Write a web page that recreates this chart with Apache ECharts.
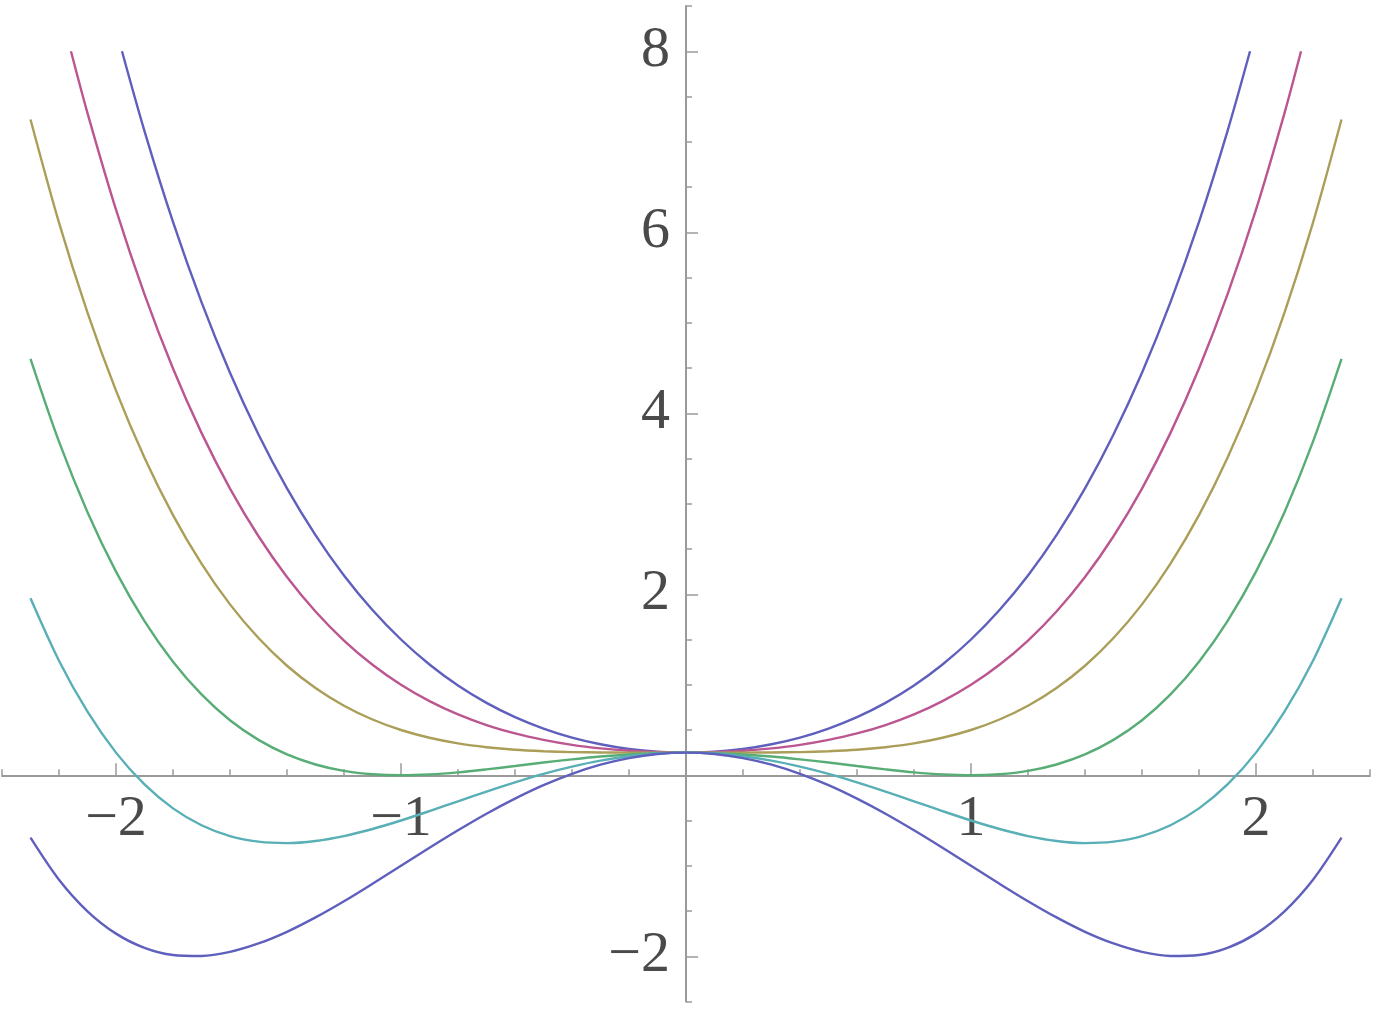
<!DOCTYPE html>
<html>
<head>
<meta charset="utf-8">
<script src="https://cdn.jsdelivr.net/npm/echarts@6/dist/echarts.min.js"></script>
<style>
html,body{margin:0;padding:0;background:#fff;}
#chart{width:1375px;height:1015px;}
</style>
</head>
<body>
<div id="chart"></div>
<script>
// x samples
var xsFull = [-2.3,-2.2,-2.1,-2.0,-1.9,-1.8,-1.7,-1.6,-1.5,-1.4,-1.3,-1.2,-1.1,-1.0,-0.9,-0.8,-0.7,-0.6,-0.5,-0.4,-0.3,-0.2,-0.1,0,
  0.1,0.2,0.3,0.4,0.5,0.6,0.7,0.8,0.9,1.0,1.1,1.2,1.3,1.4,1.5,1.6,1.7,1.8,1.9,2.0,2.1,2.2,2.3];
var xsBlueTop = [-1.979,-1.9,-1.8,-1.7,-1.6,-1.5,-1.4,-1.3,-1.2,-1.1,-1.0,-0.9,-0.8,-0.7,-0.6,-0.5,-0.4,-0.3,-0.2,-0.1,0,
  0.1,0.2,0.3,0.4,0.5,0.6,0.7,0.8,0.9,1.0,1.1,1.2,1.3,1.4,1.5,1.6,1.7,1.8,1.9,1.979];
var xsPinkTop = [-2.158,-2.1,-2.0,-1.9,-1.8,-1.7,-1.6,-1.5,-1.4,-1.3,-1.2,-1.1,-1.0,-0.9,-0.8,-0.7,-0.6,-0.5,-0.4,-0.3,-0.2,-0.1,0,
  0.1,0.2,0.3,0.4,0.5,0.6,0.7,0.8,0.9,1.0,1.1,1.2,1.3,1.4,1.5,1.6,1.7,1.8,1.9,2.0,2.1,2.158];

// curve values
var blueTop = [8,7.118,6.114,5.228,4.448,3.766,3.17,2.654,2.208,1.826,1.5,1.224,0.992,0.8,0.642,0.516,0.416,0.342,0.29,0.26,0.25,
  0.26,0.29,0.342,0.416,0.516,0.642,0.8,0.992,1.224,1.5,1.826,2.208,2.654,3.17,3.766,4.448,5.228,6.114,7.118,8];
var pink = [8,7.317,6.25,5.313,4.494,3.783,3.168,2.641,2.19,1.809,1.488,1.221,1.0,0.819,0.672,0.555,0.462,0.391,0.336,0.297,0.27,0.255,0.25,
  0.255,0.27,0.297,0.336,0.391,0.462,0.555,0.672,0.819,1.0,1.221,1.488,1.809,2.19,2.641,3.168,3.783,4.494,5.313,6.25,7.317,8];
var yellow = [7.246,6.106,5.112,4.25,3.508,2.874,2.338,1.888,1.516,1.21,0.964,0.768,0.616,0.5,0.414,0.352,0.31,0.282,0.266,0.256,0.252,0.25,0.25,0.25,
  0.25,0.25,0.252,0.256,0.266,0.282,0.31,0.352,0.414,0.5,0.616,0.768,0.964,1.21,1.516,1.888,2.338,2.874,3.508,4.25,5.112,6.106,7.246];
var green = [4.601,3.686,2.907,2.25,1.703,1.254,0.893,0.608,0.391,0.23,0.119,0.048,0.011,0,0.009,0.032,0.065,0.102,0.141,0.176,0.207,0.23,0.245,0.25,
  0.245,0.23,0.207,0.176,0.141,0.102,0.065,0.032,0.009,0,0.011,0.048,0.119,0.23,0.391,0.608,0.893,1.254,1.703,2.25,2.907,3.686,4.601];
var cyan = [1.956,1.266,0.702,0.25,-0.102,-0.366,-0.552,-0.672,-0.734,-0.75,-0.726,-0.672,-0.594,-0.5,-0.396,-0.288,-0.18,-0.078,0.016,0.096,0.162,0.21,0.24,0.25,
  0.24,0.21,0.162,0.096,0.016,-0.078,-0.18,-0.288,-0.396,-0.5,-0.594,-0.672,-0.726,-0.75,-0.734,-0.672,-0.552,-0.366,-0.102,0.25,0.702,1.266,1.956];
var blueLow = [-0.689,-1.154,-1.503,-1.75,-1.907,-1.986,-1.997,-1.952,-1.859,-1.73,-1.571,-1.392,-1.199,-1.0,-0.801,-0.608,-0.425,-0.258,-0.109,0.016,0.117,0.19,0.235,0.25,
  0.235,0.19,0.117,0.016,-0.109,-0.258,-0.425,-0.608,-0.801,-1.0,-1.199,-1.392,-1.571,-1.73,-1.859,-1.952,-1.997,-1.986,-1.907,-1.75,-1.503,-1.154,-0.689];

// tick labels
var xTickLabels = [-2, -1, 1, 2];
var yTickLabels = [-2, 2, 4, 6, 8];

function pairs(xs, ys){
  return xs.map(function(x, i){ return [x, ys[i]]; });
}
function fmt(v){
  return String(v).replace('-', '\u2212');
}

var axisColor = '#9a9a9a';
var gridTop = 6, gridBottom = 13.5, gridLeft = 2, gridRight = 5;
var H = 1015 - gridTop - gridBottom, W = 1375 - gridLeft - gridRight;
var yMin = -2.5, yMax = 8.5, xMin = -2.4, xMax = 2.4;
// move axes onto the zero lines
var xOffset = -(H * (0 - yMin) / (yMax - yMin));
var yOffset = -(W * (0 - xMin) / (xMax - xMin));

var labelStyle = {
  color: '#4a4a4a',
  fontFamily: 'Liberation Serif',
  fontSize: 58,
  formatter: fmt
};

function line(data, color){
  return {
    type: 'line',
    data: data,
    smooth: 0.3,
    showSymbol: false,
    silent: true,
    lineStyle: {color: color, width: 2.4}
  };
}

var chart = echarts.init(document.getElementById('chart'));
chart.setOption({
  animation: false,
  backgroundColor: '#fff',
  grid: {left: gridLeft, right: gridRight, top: gridTop, bottom: gridBottom, outerBoundsMode: 'none', containLabel: false},
  xAxis: [{
    type: 'value', position: 'bottom', offset: xOffset,
    min: xMin, max: xMax,
    axisLine: {onZero: false, lineStyle: {color: axisColor, width: 2}},
    axisTick: {inside: true, length: 12, customValues: xTickLabels, lineStyle: {color: axisColor, width: 1.5}},
    splitLine: {show: false},
    axisLabel: Object.assign({margin: 16, customValues: xTickLabels}, labelStyle)
  }, {
    type: 'value', position: 'bottom', offset: xOffset,
    min: xMin, max: xMax, interval: 0.2,
    axisLine: {show: false, onZero: false},
    axisTick: {inside: true, length: 6, lineStyle: {color: axisColor, width: 1.5}},
    splitLine: {show: false},
    axisLabel: {show: false}
  }],
  yAxis: [{
    type: 'value', position: 'left', offset: yOffset,
    min: yMin, max: yMax,
    axisLine: {onZero: false, lineStyle: {color: axisColor, width: 2}},
    axisTick: {inside: true, length: 12, customValues: yTickLabels, lineStyle: {color: axisColor, width: 1.5}},
    splitLine: {show: false},
    axisLabel: Object.assign({margin: 16, customValues: yTickLabels}, labelStyle)
  }, {
    type: 'value', position: 'left', offset: yOffset,
    min: yMin, max: yMax, interval: 0.5,
    axisLine: {show: false, onZero: false},
    axisTick: {inside: true, length: 6, lineStyle: {color: axisColor, width: 1.5}},
    splitLine: {show: false},
    axisLabel: {show: false}
  }],
  series: [
    line(pairs(xsBlueTop, blueTop), '#5f5fbd'),
    line(pairs(xsPinkTop, pink), '#bb5690'),
    line(pairs(xsFull, yellow), '#ab9e58'),
    line(pairs(xsFull, green), '#58ad76'),
    line(pairs(xsFull, cyan), '#58afb5'),
    line(pairs(xsFull, blueLow), '#5f5fbd')
  ]
});
</script>
</body>
</html>
